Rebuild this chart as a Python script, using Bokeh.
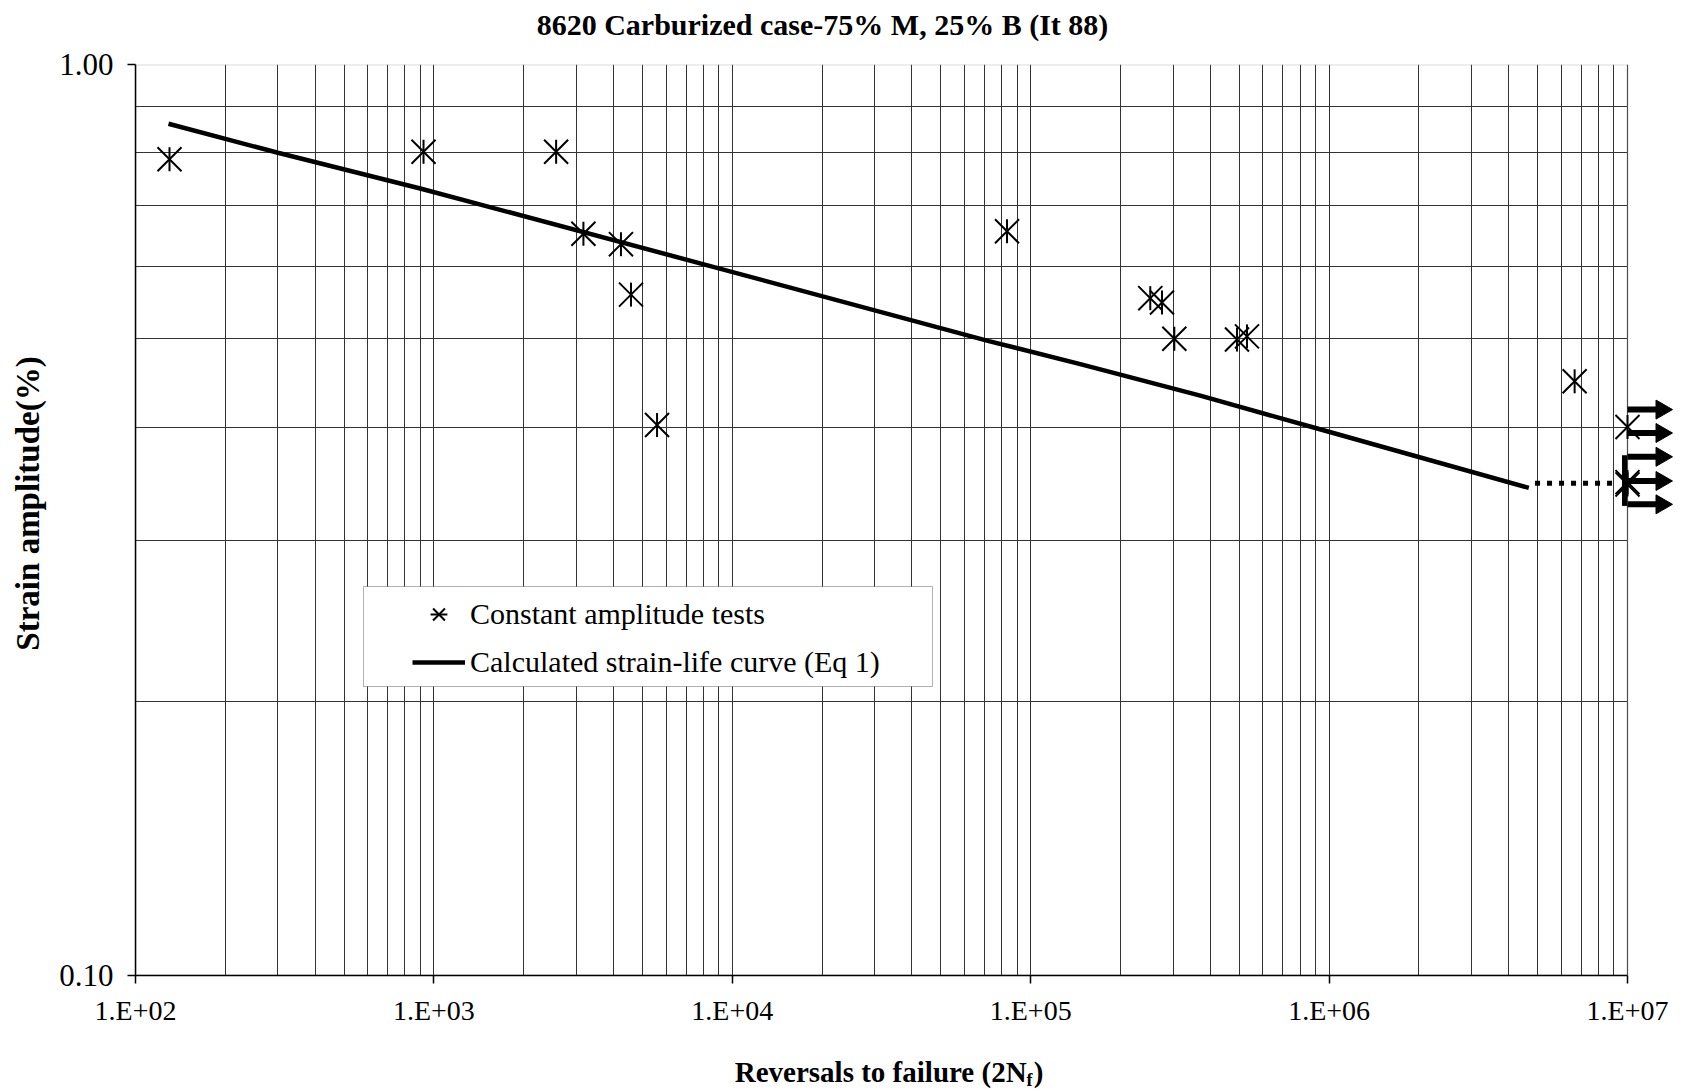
import math
from bokeh.plotting import figure
from bokeh.layouts import column
from bokeh.models import (Range1d, FixedTicker, Legend, LegendItem, BoxAnnotation,
                          ColumnDataSource, Grid)
from bokeh.core.properties import value
from bokeh.embed import file_html
from bokeh.resources import INLINE

# ---------------- texts ----------------
title_text = "8620 Carburized case-75% M, 25% B (It 88)"
x_label_main = "Reversals to failure (2N\u00a0)"
x_label_sub = "f"
y_label_text = "Strain amplitude(%)"
legend_tests = "Constant amplitude tests"
legend_curve = "Calculated strain-life curve (Eq 1)"

# ---------------- ticks ----------------
x_major = [1e2, 1e3, 1e4, 1e5, 1e6, 1e7]
x_major_labels = ["1.E+02", "1.E+03", "1.E+04", "1.E+05", "1.E+06", "1.E+07"]
y_major = [0.1, 1.0]
y_major_labels = ["0.10", "1.00"]
x_minor_mult = [2, 3, 4, 5, 6, 7, 8, 9]
y_minor = [0.2, 0.3, 0.4, 0.5, 0.6, 0.7, 0.8, 0.9]

# ---------------- data ----------------
test_reversals = [130, 923, 2568, 3170, 4235, 4577, 5595, 83300,
                  251600, 275400, 302900, 491200, 530600, 6.65e6, 1e7, 1e7, 1e7]
test_strain = [0.787, 0.802, 0.802, 0.652, 0.635, 0.559, 0.402, 0.656,
               0.554, 0.548, 0.500, 0.499, 0.503, 0.449, 0.400, 0.348, 0.346]

curve_reversals = [129, 300, 900, 7800, 72400, 146600, 370000, 900000, 4.67e6]
curve_strain = [0.861, 0.800, 0.731, 0.605, 0.497, 0.469, 0.433, 0.399, 0.343]

ext_reversals = [4.9e6, 9.0e6]
ext_strain = [0.347, 0.347]

runout_strain = [0.418, 0.394, 0.371, 0.349, 0.329]
runout_start = 1e7

# ---------------- geometry (page pixels) ----------------
W, H = 1683, 1089
H_TOP = 45                        # strip holding the chart title
H_BOT = 59                        # strip holding the x-axis title (with subscript)
H_MAIN = H - H_TOP - H_BOT
FL, FR, FT, FB = 135, 1627, 64, 975   # plot area on the page; FR = pixel of 1.E+07


def px_x(px):
    return 10 ** (2 + 5 * (px - FL) / (FR - FL))


def px_y(py):
    return 10 ** (-1 + (FB - py) / (FB - FT))


SERIF = "Liberation Serif"


def strip(height, y_top):
    # frame spans page pixels FL..W horizontally, y_top..y_top+height vertically
    s = figure(width=W, height=height, x_range=Range1d(FL, W),
               y_range=Range1d(y_top + height, y_top),
               output_backend="svg", toolbar_location=None,
               x_axis_location=None, y_axis_location=None,
               min_border_left=FL, min_border_right=0,
               min_border_top=0, min_border_bottom=0)
    s.title = None
    s.outline_line_color = None
    s.background_fill_color = "white"
    s.border_fill_color = "white"
    s.grid.visible = False
    return s


# ---------------- title strip ----------------
pt = strip(H_TOP, 0)
pt.text(x=[822], y=[24], text=[title_text], text_align="center", text_baseline="middle",
        text_font=value(SERIF), text_font_style="bold", text_font_size=value("30px"),
        text_color="black")

# ---------------- main chart ----------------
# frame extends to the right edge so the run-out arrows can be drawn as glyphs
p = figure(width=W, height=H_MAIN, x_axis_type="log", y_axis_type="log",
           x_range=Range1d(1e2, px_x(W)), y_range=Range1d(0.1, 1.0),
           output_backend="svg", toolbar_location=None,
           min_border_left=FL, min_border_right=0,
           min_border_top=FT - H_TOP, min_border_bottom=H_MAIN - (FB - H_TOP))
p.title = None
p.background_fill_color = "white"
p.border_fill_color = "white"
p.outline_line_color = None

x_minor = [m * 10 ** k for k in range(2, 7) for m in x_minor_mult]
p.xaxis.ticker = FixedTicker(ticks=x_major, minor_ticks=x_minor)
p.yaxis.ticker = FixedTicker(ticks=y_major, minor_ticks=y_minor)
p.xaxis.major_label_overrides = {k: v for k, v in zip(x_major, x_major_labels)}
p.yaxis.major_label_overrides = {k: v for k, v in zip(y_major, y_major_labels)}
p.xaxis.bounds = (x_major[0], x_major[-1])

for ax in (p.xaxis[0], p.yaxis[0]):
    ax.axis_line_color = "black"
    ax.axis_line_width = 1.5
    ax.major_tick_line_color = "black"
    ax.major_tick_line_width = 1.5
    ax.major_tick_out = 8
    ax.major_tick_in = 0
    ax.minor_tick_out = 0
    ax.minor_tick_in = 0
    ax.major_label_text_font = SERIF
    ax.major_label_text_color = "black"
p.xaxis.major_label_text_font_size = "28px"
p.yaxis.major_label_text_font_size = "31px"

p.xaxis.major_label_standoff = 11
p.yaxis.major_label_standoff = 14
# leading no-break spaces nudge the centred title up to where the reference has it
p.yaxis.axis_label = "\u00a0" * 4 + y_label_text
p.yaxis.axis_label_text_font = SERIF
p.yaxis.axis_label_text_font_style = "bold"
p.yaxis.axis_label_text_font_size = "33px"
p.yaxis.axis_label_text_color = "black"
p.yaxis.axis_label_standoff = 10

GRID = "#333333"
for g in (p.xgrid[0], p.ygrid[0]):
    g.grid_line_color = GRID
    g.grid_line_width = 1
    g.minor_grid_line_color = GRID
    g.minor_grid_line_width = 1

if "cross_bounds" in Grid.properties():
    p.ygrid.cross_bounds = (x_major[0], x_major[-1])
else:
    p.ygrid.grid_line_color = None
    p.ygrid.minor_grid_line_color = None
    hy = y_minor + y_major
    p.segment(x0=[x_major[0]] * len(hy), x1=[x_major[-1]] * len(hy), y0=hy, y1=hy,
              line_color=GRID, line_width=1, level="underlay")

# plot-area border (top / right in grey)
p.add_layout(BoxAnnotation(left=x_major[0], right=x_major[-1], bottom=y_major[0], top=y_major[-1],
                           fill_alpha=0, line_color="#888888", line_width=2, level="underlay"))

src = ColumnDataSource(dict(x=test_reversals, y=test_strain))
r_x = p.scatter("x", "y", source=src, marker="x", size=34,
                line_color="black", line_width=2)
r_v = p.scatter("x", "y", source=src, marker="dash", angle=math.pi / 2, size=24,
                line_color="black", line_width=2)

r_curve = p.line(curve_reversals, curve_strain, line_width=4.5, line_color="black")
p.line(ext_reversals, ext_strain, line_width=5, line_color="black",
       line_dash="5 7", line_cap="butt")

# run-out arrows
n_run = len(runout_strain)
shaft_end = px_x(1660)
head_pos = px_x(1661)
p.segment(x0=[runout_start] * n_run, x1=[shaft_end] * n_run, y0=runout_strain, y1=runout_strain,
          line_width=6, line_color="black")
p.scatter(x=[head_pos] * n_run, y=runout_strain, marker="triangle", angle=-math.pi / 2,
          size=19, fill_color="black", line_color="black", line_width=1)
bx = px_x(1624)
p.segment(x0=[bx], x1=[bx], y0=[runout_strain[2] * 1.004], y1=[runout_strain[4] / 1.004],
          line_width=5, line_color="black")

# legend
box = BoxAnnotation(left=px_x(363), right=px_x(932), top=px_y(586), bottom=px_y(686),
                    fill_color="white", fill_alpha=1.0, line_color="black", line_width=1)
p.add_layout(box)
legend = Legend(items=[LegendItem(label=legend_tests, renderers=[r_x, r_v]),
                       LegendItem(label=legend_curve, renderers=[r_curve])],
                location=(407 - FL, FB - 688), margin=0, padding=5, spacing=6,
                glyph_width=53, glyph_height=42, label_height=42, label_standoff=5,
                label_text_font=SERIF, label_text_font_size="30px", label_text_color="black",
                border_line_alpha=0, background_fill_alpha=0)
p.add_layout(legend)

# ---------------- x-axis title strip ----------------
pb = strip(H_BOT, H - H_BOT)
pb.text(x=[1043], y=[1071], text=[x_label_main], text_align="right",
        text_baseline="middle", text_font=value(SERIF), text_font_style="bold",
        text_font_size=value("29px"), text_color="black")
pb.text(x=[1026], y=[1079], text=[x_label_sub], text_align="left",
        text_baseline="middle", text_font=value(SERIF), text_font_style="bold",
        text_font_size=value("18px"), text_color="black")

open("out.html", "w").write(file_html(column(pt, p, pb, spacing=0), INLINE))
